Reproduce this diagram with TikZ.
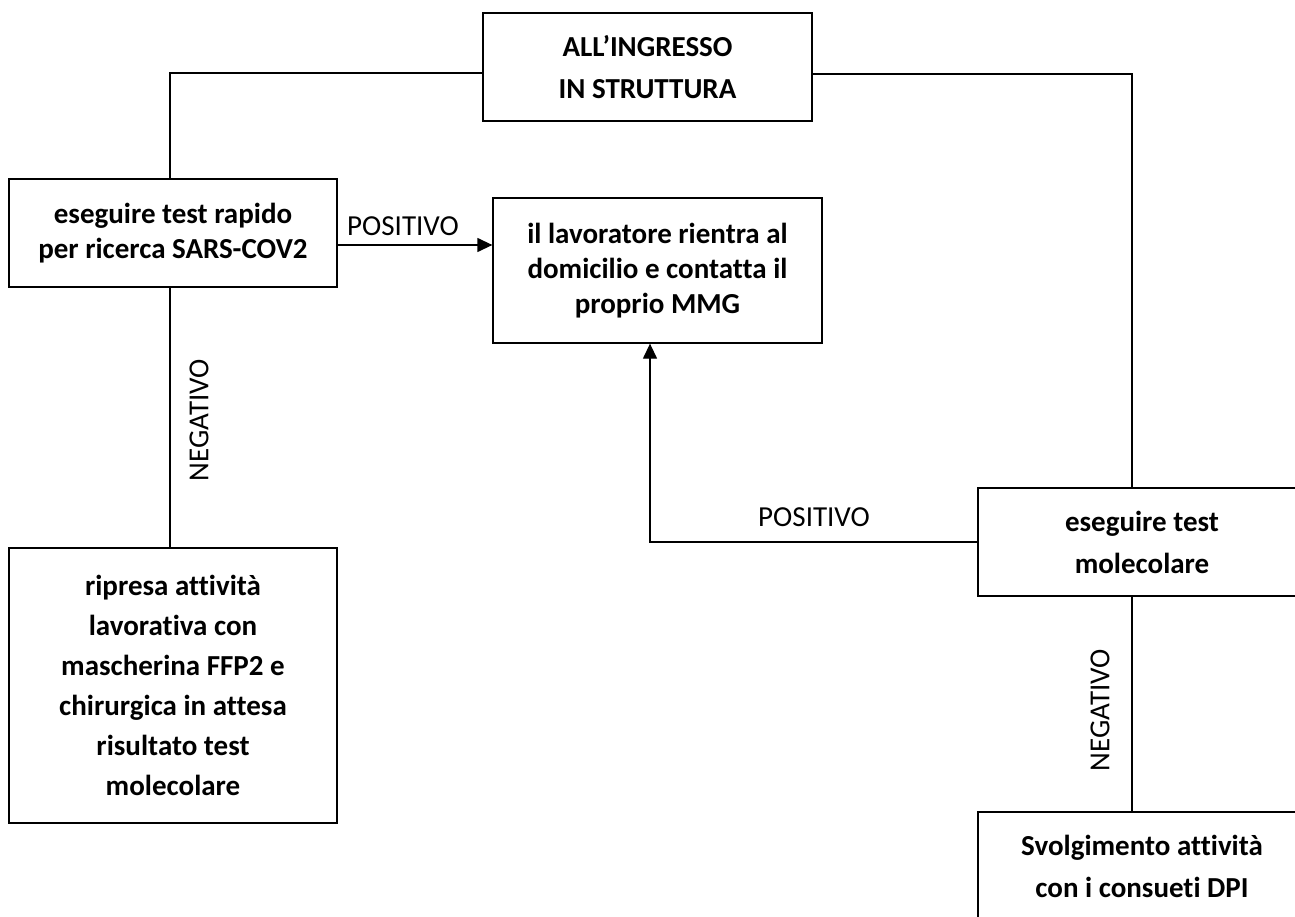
\documentclass[tikz,border=0pt]{standalone}
\usepackage{fontspec}
\setmainfont{Carlito}[Ligatures={NoCommon}]
\usetikzlibrary{arrows.meta}
\begin{document}
\begin{tikzpicture}[x=1pt,y=-1pt,
  box/.style={draw, line width=1.3pt, align=center, inner sep=0pt},
  bf35/.style={font=\bfseries\fontsize{29}{35}\selectfont},
  bf40/.style={font=\bfseries\fontsize{29}{40}\selectfont},
  bf42/.style={font=\bfseries\fontsize{29}{42}\selectfont},
  lbl/.style={font=\fontsize{29}{35}\selectfont, inner sep=0pt},
  conn/.style={line width=1.3pt},
  arr/.style={conn, -{Triangle[length=15pt,width=14pt]}}]
\useasboundingbox (0,0) rectangle (1295,917);
\clip (0,0) rectangle (1295,917);
\fill[white] (0,0) rectangle (1295,917);

\node[box, bf42, minimum width=329pt, minimum height=108pt] (top) at (647.5,67) {ALL’INGRESSO\\IN STRUTTURA};
\node[box, bf35, minimum width=328pt, minimum height=108pt] (b1) at (173,233) {eseguire test rapido\\per ricerca SARS-COV2};
\node[box, bf35, minimum width=329pt, minimum height=145pt] (b2) at (657.5,270.5) {il lavoratore rientra al\\domicilio e contatta il\\proprio MMG};
\node[box, bf40, minimum width=328pt, minimum height=275pt] (b3) at (173,685.5) {ripresa attività\\lavorativa con\\mascherina FFP2 e\\chirurgica in attesa\\risultato test\\molecolare};
\node[box, bf42, minimum width=328pt, minimum height=108pt] (b4) at (1142,542) {eseguire test\\molecolare};
\node[box, bf42, minimum width=328pt, minimum height=108pt] (b5) at (1142,866) {Svolgimento attività\\con i consueti DPI};

\draw[conn] ([yshift=-6pt]top.west) -| ([xshift=-3pt]b1.north);
\draw[conn] ([yshift=-7pt]top.east) -| ([xshift=-10pt]b4.north);
\draw[arr] ([yshift=-12pt]b1.east) -- ([yshift=-12pt]b1.east -| b2.west);
\draw[conn] ([xshift=-3pt]b1.south) -- ([xshift=-3pt]b3.north);
\draw[arr] (b4.west) -| ([xshift=-7.5pt]b2.south);
\draw[conn] ([xshift=-10pt]b4.south) -- ([xshift=-10pt]b5.north);

\node[lbl] (p1) at (403,226) {POSITIVO};
\node[lbl, rotate=90] (n1) at (199,420) {NEGATIVO};
\node[lbl] (p2) at (814,517) {POSITIVO};
\node[lbl, rotate=90] (n2) at (1100,710) {NEGATIVO};
\end{tikzpicture}
\end{document}
